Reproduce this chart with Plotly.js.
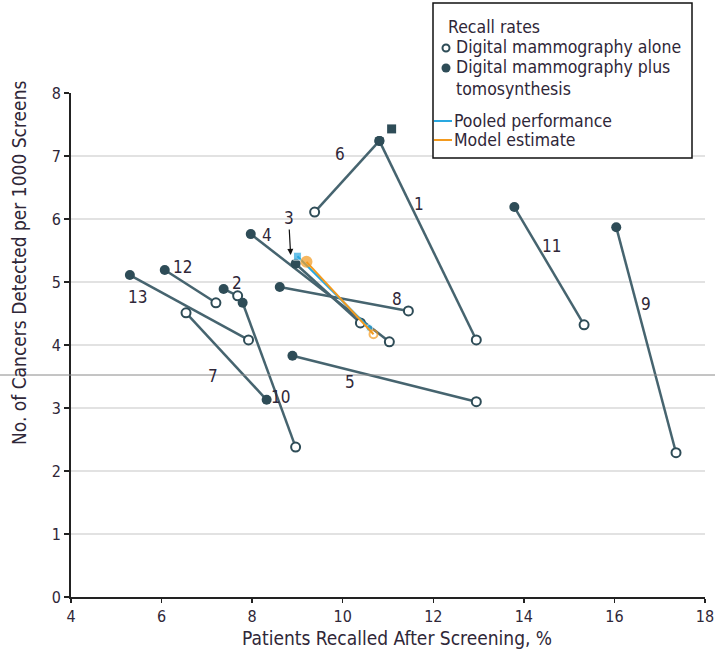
<!DOCTYPE html>
<html>
<head>
<meta charset="utf-8">
<script src="https://cdn.plot.ly/plotly-3.0.1.min.js"></script>
<style>html,body{margin:0;padding:0;background:#fff;}</style>
</head>
<body>
<div id="chart" style="width:715px;height:658px;"></div>
<script>
// ---- data ----
const studies = ['1','2','3','4','5','6','7','8','9','10','11','12','13'];
// Digital mammography plus tomosynthesis (filled)
const dbtX = [10.81, 7.37, 8.96, 7.97, 8.89, 10.81, 8.32, 8.61, 16.04, 7.79, 13.79, 6.07, 5.30];
const dbtY = [7.24, 4.89, 5.29, 5.76, 3.83, 7.24, 3.13, 4.92, 5.87, 4.67, 6.19, 5.19, 5.11];
// Digital mammography alone (open)
const dmX = [12.95, 7.68, 10.39, 11.03, 12.95, 9.38, 6.54, 11.45, 17.36, 8.96, 15.33, 7.20, 7.92];
const dmY = [4.08, 4.78, 4.35, 4.05, 3.10, 6.11, 4.51, 4.54, 2.29, 2.38, 4.32, 4.67, 4.08];
// study number label positions
const labelX = [11.69, 7.66, 8.81, 8.32, 10.17, 9.95, 7.13, 11.19, 16.70, 8.63, 14.60, 6.47, 5.46];
const labelY = [6.24, 4.98, 6.02, 5.75, 3.41, 7.03, 3.51, 4.73, 4.65, 3.17, 5.57, 5.24, 4.76];
// extra square marker
const squareX = [11.08];
const squareY = [7.43];
// pooled performance [tomo, DM alone]
const pooledX = [9.00, 10.59];
const pooledY = [5.41, 4.27];
// model estimate [tomo, DM alone]
const modelX = [9.20, 10.68];
const modelY = [5.32, 4.17];

const xTicks = [4, 6, 8, 10, 12, 14, 16, 18];
const yTicks = [0, 1, 2, 3, 4, 5, 6, 7, 8];

// ---- styles ----
const FONT = '"Liberation Sans Narrow", "DejaVu Sans Condensed", "Roboto", sans-serif';
const TXT = '#2f2738';
const DARK = '#2e4c57';
const LINE = '#46646f';
const BLUE = '#29a8e0';
const ORANGE = '#f39a1e';

const traces = [];
studies.forEach((s, i) => {
  traces.push({
    x: [dbtX[i], dmX[i]], y: [dbtY[i], dmY[i]],
    mode: 'lines', line: {color: LINE, width: 2.5},
    showlegend: false, hoverinfo: 'skip'
  });
});
traces.push({
  x: dmX, y: dmY, mode: 'markers', showlegend: false,
  marker: {symbol: 'circle', size: 9, color: '#ffffff', line: {color: DARK, width: 2}}
});
traces.push({
  x: dbtX, y: dbtY, mode: 'markers', showlegend: false,
  marker: {symbol: 'circle', size: 10, color: DARK, line: {color: DARK, width: 0}}
});
traces.push({
  x: squareX, y: squareY, mode: 'markers', showlegend: false,
  marker: {symbol: 'square', size: 9, color: DARK}
});
traces.push({
  x: pooledX, y: pooledY, mode: 'lines+markers', showlegend: false,
  line: {color: BLUE, width: 2},
  marker: {symbol: ['square', 'circle'], size: [8, 7], color: BLUE}
});
traces.push({
  x: modelX, y: modelY, mode: 'lines+markers', showlegend: false,
  line: {color: ORANGE, width: 2},
  marker: {symbol: ['circle', 'circle-open'], size: [10, 8], color: ORANGE, line: {color: ORANGE, width: 2}}
});

const annotations = [];
studies.forEach((s, i) => {
  if (s === '3') return;
  annotations.push({
    x: labelX[i], y: labelY[i], text: s, showarrow: false,
    font: {family: FONT, size: 17, color: TXT}
  });
});
// study 3 with arrow
annotations.push({
  x: 8.85, y: 5.43, xref: 'x', yref: 'y', text: '3', showarrow: true,
  ax: -2, ay: -37, arrowhead: 2, arrowsize: 1, arrowwidth: 1.2, arrowcolor: '#111',
  standoff: 0, font: {family: FONT, size: 17, color: TXT}
});

// axis titles
const px = v => (v - 71) / 634;
const py = v => (597 - v) / 504;
annotations.push({
  xref: 'paper', yref: 'paper', x: px(397), y: py(638), xanchor: 'center', yanchor: 'middle',
  text: 'Patients Recalled After Screening, %', showarrow: false,
  font: {family: FONT, size: 19, color: TXT}
});
annotations.push({
  xref: 'paper', yref: 'paper', x: px(19), y: py(263), xanchor: 'center', yanchor: 'middle',
  textangle: -90,
  text: 'No. of Cancers Detected per 1000 Screens', showarrow: false,
  font: {family: FONT, size: 19, color: TXT}
});

// legend (manual)
const legText = [
  ['Recall rates', 446, 27],
  ['Digital mammography alone', 454, 47],
  ['Digital mammography plus', 454, 67],
  ['tomosynthesis', 454, 89],
  ['Pooled performance', 452, 121],
  ['Model estimate', 452, 140]
];
legText.forEach(t => annotations.push({
  xref: 'paper', yref: 'paper', x: px(t[1]), y: py(t[2]), xanchor: 'left', yanchor: 'middle',
  text: t[0], showarrow: false, font: {family: FONT, size: 17.5, color: TXT}
}));

const shapes = [
  {type: 'rect', xref: 'paper', yref: 'paper', x0: px(433), x1: px(692), y0: py(158), y1: py(3),
   line: {color: '#111', width: 1.5}, fillcolor: 'rgba(255,255,255,1)', layer: 'above'},
  {type: 'line', xref: 'paper', yref: 'paper', x0: px(434), x1: px(452), y0: py(121), y1: py(121),
   line: {color: BLUE, width: 2}},
  {type: 'line', xref: 'paper', yref: 'paper', x0: px(434), x1: px(452), y0: py(140), y1: py(140),
   line: {color: ORANGE, width: 2}},
  {type: 'circle', xref: 'paper', yref: 'paper', xsizemode: 'pixel', ysizemode: 'pixel',
   xanchor: px(446), yanchor: py(48), x0: -3.5, x1: 3.5, y0: -3.5, y1: 3.5,
   line: {color: DARK, width: 2}, fillcolor: '#fff'},
  {type: 'circle', xref: 'paper', yref: 'paper', xsizemode: 'pixel', ysizemode: 'pixel',
   xanchor: px(446), yanchor: py(68), x0: -4.5, x1: 4.5, y0: -4.5, y1: 4.5,
   line: {color: DARK, width: 0}, fillcolor: DARK},
  // stray thin horizontal line present in the reference image
  {type: 'line', xref: 'paper', yref: 'paper', x0: px(0), x1: px(715), y0: py(375), y1: py(375),
   line: {color: '#8a8a8a', width: 1}, layer: 'above'}
];

const layout = {
  width: 715, height: 658,
  margin: {l: 71, r: 10, t: 93, b: 61},
  paper_bgcolor: '#fff', plot_bgcolor: '#fff',
  showlegend: false,
  font: {family: FONT, color: TXT},
  xaxis: {
    range: [4, 18], tickvals: xTicks, ticktext: xTicks.map(String),
    showgrid: false, zeroline: false, showline: true, linecolor: '#222', linewidth: 2,
    ticks: 'outside', ticklen: 4, tickwidth: 1.5, tickcolor: '#222',
    tickfont: {family: FONT, size: 16, color: TXT}, fixedrange: true
  },
  yaxis: {
    range: [0, 8], tickvals: yTicks, ticktext: yTicks.map(String),
    showgrid: true, gridcolor: '#e2e2e2', gridwidth: 1.5,
    zeroline: false, showline: true, linecolor: '#222', linewidth: 2,
    ticks: 'outside', ticklen: 5, tickwidth: 1.5, tickcolor: '#222',
    tickfont: {family: FONT, size: 16, color: TXT}, fixedrange: true
  },
  annotations: annotations,
  shapes: shapes
};

Plotly.newPlot('chart', traces, layout, {displayModeBar: false, staticPlot: true});
</script>
</body>
</html>
